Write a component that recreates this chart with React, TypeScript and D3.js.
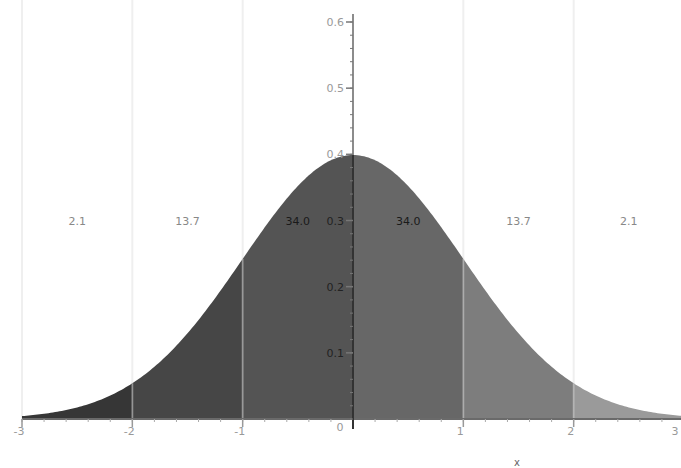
import * as d3 from "d3";

// standard normal, bands between integer sigmas
const bandEdges = [-3, -2, -1, 0, 1, 2, 3];
const bandPercent = ["2.1", "13.7", "34.0", "34.0", "13.7", "2.1"];
const xTicks = [-3, -2, -1, 0, 1, 2, 3];
const yTicks = [0.1, 0.2, 0.3, 0.4, 0.5, 0.6];
const labelLevel = 0.3;

const bandColors = ["#363636", "#464646", "#545454", "#676767", "#7d7d7d", "#9a9a9a"];

const W = 681;
const H = 468;

const pdf = (x: number) => Math.exp(-x * x / 2) / Math.sqrt(2 * Math.PI);

export default function App() {
  const x = d3.scaleLinear().domain([-3, 3]).range([22, 684]);
  const y = d3.scaleLinear().domain([0, 0.6]).range([419, 22]);

  const area = d3.area<number>()
    .x(d => x(d))
    .y0(y(0))
    .y1(d => y(pdf(d)));

  const bands = bandPercent.map((p, i) => {
    const a = bandEdges[i];
    const b = bandEdges[i + 1];
    const pts = d3.range(a, b, 0.02).concat([b]);
    return { a, b, p, pts, mid: (a + b) / 2 };
  });

  const xMinor = d3.range(-3, 3.001, 0.2).map(v => Math.round(v * 10) / 10);
  const yMinor = d3.range(0, 0.6001, 0.02).map(v => Math.round(v * 100) / 100);

  // keep the last tick label inside the picture
  const xLabelPos = (t: number) => {
    if (t === 0) return x(t) - 13;
    return Math.min(x(t) - 3, W - 6);
  };

  return (
    <svg width={W} height={H} style={{ position: "absolute", left: 0, top: 0, background: "#fff" }}
      fontFamily="'DejaVu Sans', sans-serif">
      {/* light vertical grid at sigma lines */}
      {xTicks.filter(t => t !== 0).map(t => (
        <line key={"g" + t} x1={x(t)} x2={x(t)} y1={0} y2={y(0)} stroke="#efefef" strokeWidth={2} />
      ))}

      {bands.map((b, i) => (
        <path key={"b" + i} d={area(b.pts) || ""} fill={bandColors[i]} />
      ))}

      {/* band boundaries inside the fill */}
      {bandEdges.filter(t => t !== 0 && Math.abs(t) !== 3).map(t => (
        <line key={"e" + t} x1={x(t)} x2={x(t)} y1={y(pdf(t))} y2={y(0)}
          stroke="rgba(205,205,205,0.45)" strokeWidth={2} />
      ))}

      {/* x axis */}
      <line x1={x(-3)} x2={x(3)} y1={y(0)} y2={y(0)} stroke="#6a6a6a" strokeWidth={2} />
      {xMinor.map(t => (
        <line key={"xm" + t} x1={x(t)} x2={x(t)} y1={y(0)} y2={y(0) + 3} stroke="#aaa" strokeWidth={1} />
      ))}
      {xTicks.map(t => (
        <line key={"xt" + t} x1={x(t)} x2={x(t)} y1={y(0)} y2={y(0) + 8} stroke="#999" strokeWidth={1.5} />
      ))}
      {xTicks.map(t => (
        <text key={"xl" + t} x={xLabelPos(t)} y={y(0) + (t === 0 ? 12 : 16)}
          textAnchor="middle" fontSize={11} fill="#999">{t}</text>
      ))}
      <text x={517} y={466} fontSize={10} fill="#666" textAnchor="middle">x</text>

      {/* y axis: dark under the curve, grey above it */}
      <line x1={x(0)} x2={x(0)} y1={y(0) + 10} y2={y(pdf(0))} stroke="#333" strokeWidth={2} />
      <line x1={x(0)} x2={x(0)} y1={y(pdf(0))} y2={14} stroke="#8c8c8c" strokeWidth={2} />
      {yMinor.map(t => (
        <line key={"ym" + t} x1={x(0) - 3} x2={x(0)} y1={y(t)} y2={y(t)} stroke="#777" strokeWidth={1} />
      ))}
      {yTicks.map(t => (
        <line key={"yt" + t} x1={x(0) - 7} x2={x(0)} y1={y(t)} y2={y(t)} stroke="#777" strokeWidth={1.5} />
      ))}
      {yTicks.map(t => (
        <text key={"yl" + t} x={x(0) - 9} y={y(t) + 4} textAnchor="end" fontSize={11}
          fill={pdf(0) > t ? "#222" : "#999"}>{t.toFixed(1)}</text>
      ))}

      {/* percentages */}
      {bands.map((b, i) => (
        <text key={"p" + i} x={x(b.mid)} y={y(labelLevel) + 4} textAnchor="middle" fontSize={11}
          fill={Math.abs(b.mid) < 1 ? "#1a1a1a" : "#888"}>{b.p}</text>
      ))}
    </svg>
  );
}
